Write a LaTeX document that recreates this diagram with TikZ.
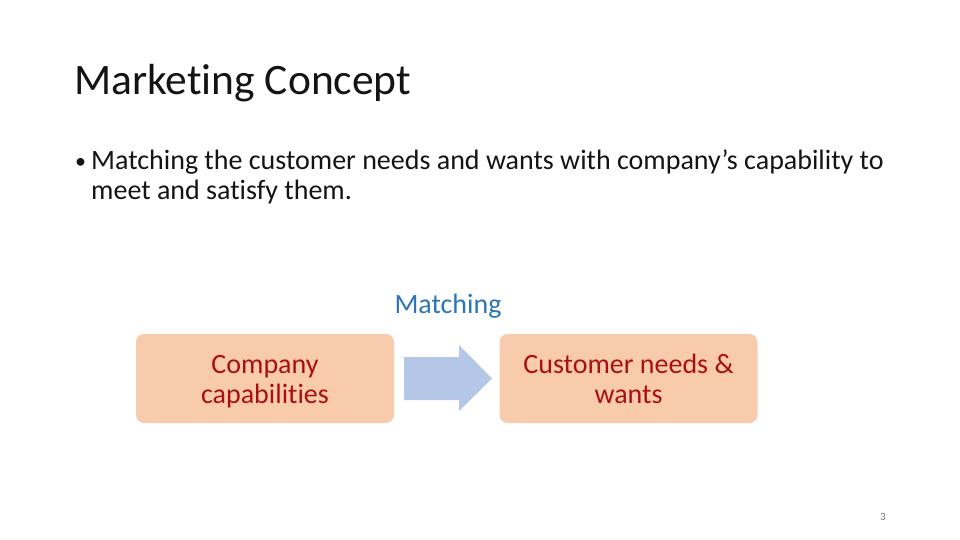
\documentclass[tikz,border=0pt]{standalone}
\usepackage{fontspec}
\usetikzlibrary{calc}
\setmainfont{Carlito}[Ligatures={NoCommon}]
\definecolor{boxfill}{RGB}{248,203,173}
\definecolor{boxtext}{RGB}{170,16,16}
\definecolor{arrowfill}{RGB}{180,199,231}
\definecolor{matchblue}{RGB}{46,117,182}
\definecolor{pagegray}{RGB}{118,118,118}
\definecolor{bodytext}{RGB}{20,20,20}
\newcommand{\bxstrut}{\rule[-5pt]{0pt}{29pt}}
\tikzset{
  capbox/.style={fill=boxfill, rounded corners=8pt, minimum width=258pt, minimum height=89pt,
    align=center, text=boxtext, inner sep=0pt, font=\fontsize{28}{28.5}\selectfont},
  plain/.style={inner sep=0pt, anchor=base west, text=bodytext},
}
\begin{document}
\begin{tikzpicture}[x=1pt,y=-1pt]
\useasboundingbox (0,0) rectangle (960,540);
\node[plain, font=\fontsize{43.5}{48}\selectfont] (title) at (74,95) {Marketing Concept};
\node[plain, font=\fontsize{22}{30}\selectfont] (bul) at (75,169) {\textbullet};
\node[plain, font=\fontsize{28}{30}\selectfont] (line1) at (91,170) {Matching the customer needs and wants with company’s capability to};
\node[plain, font=\fontsize{28}{30}\selectfont] (line2) at (91,200) {meet and satisfy them.};
\node[inner sep=0pt, anchor=base, text=matchblue, font=\fontsize{28}{30}\selectfont] (match) at (448,313) {Matching};
\node[capbox] (comp) at (265,378.5) {Company\bxstrut\\capabilities\bxstrut};
\node[capbox] (cust) at (628.5,378.5) {Customer needs \&\bxstrut\\wants\bxstrut};
\fill[arrowfill] ($(comp.east)+(10,-21.5)$) coordinate (a1)
  -- (459,357) -- (459,345) -- (492,378.5) -- (459,411) -- (459,400) -- ($(comp.east)+(10,21.5)$) -- cycle;
\node[inner sep=0pt, anchor=base, text=pagegray, font=\fontsize{11}{14}\selectfont] (page) at (883,520) {3};
\end{tikzpicture}
\end{document}
